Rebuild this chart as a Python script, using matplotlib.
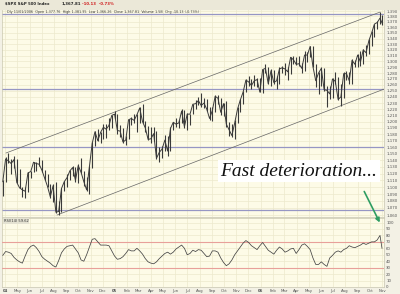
import matplotlib
matplotlib.use('Agg')
import matplotlib.pyplot as plt
import matplotlib.patches as mpatches
import pandas as pd

###############################################################
####   weekly S&P 500 values
###############################################################
week_close = [1108, 1142, 1139, 1135, 1141, 1107, 1099, 1096, 1094, 1121, 1123, 1137, 1135, 1134,
              1125, 1113, 1101, 1086, 1102, 1064, 1065, 1098, 1108, 1114, 1124, 1129, 1110,
              1132, 1122, 1108, 1096, 1130, 1166, 1184, 1170, 1183, 1191, 1188, 1194, 1210, 1212,
              1186, 1185, 1168, 1171, 1203, 1205, 1202, 1211, 1222, 1200, 1190, 1172,
              1173, 1181, 1143, 1152, 1157, 1171, 1154, 1189, 1199, 1196, 1198, 1217, 1192,
              1212, 1212, 1228, 1229, 1234, 1226, 1230, 1220, 1205, 1218, 1241, 1238, 1215, 1229,
              1196, 1187, 1178, 1198, 1220, 1235, 1248, 1268, 1265, 1259, 1267, 1269, 1248,
              1286, 1288, 1262, 1284, 1264, 1267, 1287, 1289, 1287, 1282, 1307, 1303, 1295,
              1296, 1288, 1311, 1311, 1326, 1291, 1267, 1280, 1288, 1252, 1251, 1245, 1270,
              1266, 1236, 1240, 1279, 1279, 1267, 1302, 1295, 1311, 1299, 1320, 1315, 1336,
              1350, 1366, 1369, 1377, 1368]
week_high = [1110, 1145, 1151, 1142, 1146, 1142, 1127, 1100, 1100, 1123, 1124, 1138, 1137, 1145,
             1141, 1126, 1119, 1104, 1104, 1107, 1080, 1099, 1109, 1119, 1126, 1131, 1130,
             1134, 1143, 1124, 1115, 1131, 1168, 1185, 1188, 1184, 1197, 1197, 1206, 1211, 1217,
             1212, 1195, 1190, 1178, 1204, 1208, 1212, 1212, 1224, 1229, 1201, 1193,
             1191, 1192, 1185, 1160, 1162, 1179, 1178, 1192, 1200, 1206, 1203, 1220, 1219,
             1214, 1213, 1229, 1235, 1240, 1246, 1238, 1236, 1223, 1223, 1244, 1243, 1238, 1230,
             1233, 1199, 1197, 1202, 1224, 1236, 1250, 1270, 1275, 1270, 1276, 1271, 1272,
             1287, 1295, 1290, 1287, 1286, 1275, 1290, 1292, 1297, 1290, 1308, 1310, 1307,
             1310, 1297, 1318, 1316, 1327, 1327, 1295, 1282, 1290, 1288, 1259, 1258, 1272,
             1281, 1274, 1262, 1281, 1283, 1282, 1304, 1302, 1312, 1318, 1322, 1328, 1340,
             1353, 1366, 1372, 1389, 1382]
week_low = [1087, 1108, 1136, 1120, 1128, 1106, 1098, 1085, 1084, 1093, 1113, 1122, 1124, 1131,
            1123, 1110, 1100, 1084, 1078, 1063, 1060, 1064, 1094, 1100, 1111, 1116, 1108,
            1106, 1121, 1102, 1094, 1090, 1128, 1162, 1170, 1167, 1173, 1174, 1186, 1190, 1204,
            1181, 1176, 1167, 1163, 1172, 1194, 1198, 1184, 1198, 1198, 1183, 1171,
            1166, 1169, 1142, 1137, 1143, 1154, 1146, 1154, 1186, 1192, 1190, 1198, 1190,
            1187, 1194, 1212, 1220, 1227, 1224, 1222, 1217, 1203, 1201, 1216, 1228, 1211, 1209,
            1191, 1177, 1176, 1173, 1198, 1216, 1228, 1248, 1258, 1254, 1258, 1257, 1248,
            1246, 1280, 1261, 1259, 1262, 1254, 1261, 1280, 1277, 1269, 1279, 1296, 1294,
            1292, 1280, 1284, 1299, 1307, 1290, 1256, 1245, 1259, 1250, 1224, 1237, 1238,
            1262, 1235, 1225, 1239, 1269, 1261, 1262, 1290, 1290, 1292, 1295, 1310, 1313,
            1327, 1343, 1357, 1366, 1365]
rsi14 = [49, 55, 54, 52, 46, 42, 39, 37, 48, 58, 63, 65, 61, 55, 47, 43, 40, 37, 33, 31,
         41, 53, 59, 63, 64, 65, 59, 53, 42, 40, 50, 62, 74, 75, 70, 65, 65, 65, 64, 56,
         48, 43, 44, 47, 52, 58, 56, 56, 60, 56, 51, 44, 39, 37, 36, 39, 44, 48, 52, 54,
         51, 54, 59, 62, 65, 60, 50, 52, 57, 55, 58, 57, 52, 47, 48, 56, 56, 54, 45, 38,
         33, 36, 42, 50, 56, 62, 68, 72, 69, 64, 61, 58, 64, 69, 63, 57, 54, 51, 57, 62,
         59, 54, 56, 59, 60, 52, 58, 65, 67, 63, 58, 45, 35, 35, 39, 35, 32, 45, 49, 54,
         56, 54, 58, 60, 64, 62, 61, 63, 65, 68, 66, 68, 70, 70, 73, 80, 60]
dates = list(pd.date_range('2004-03-26', periods=136, freq='W-FRI')) + [pd.Timestamp('2006-11-01')]

# trend channel and level lines drawn on the chart
chan_top_d = ['2004-04-03', '2006-10-27']
chan_top_p = [1151, 1388]
chan_bot_d = ['2004-08-09', '2006-11-06']
chan_bot_p = [1060, 1253]
levels = [1385, 1253, 1160, 1067]

month_starts = pd.date_range('2004-04-01', '2006-11-01', freq='MS')
month_labels = ['04', 'May', 'Jun', 'Jul', 'Aug', 'Sep', 'Oct', 'Nov', 'Dec',
                '05', 'Feb', 'Mar', 'Apr', 'May', 'Jun', 'Jul', 'Aug', 'Sep', 'Oct', 'Nov', 'Dec',
                '06', 'Feb', 'Mar', 'Apr', 'May', 'Jun', 'Jul', 'Aug', 'Sep', 'Oct', 'Nov']
price_ticks = list(range(1060, 1400, 10))
rsi_ticks = list(range(0, 101, 10))

###############################################################
####   figure
###############################################################
W, H = 400.0, 294.0
bg = '#fdfbe7'
grid_c = '#ece9cd'
fig = plt.figure(figsize=(4, 2.94), dpi=100, facecolor='#f3f1e5')
fig.patches.append(mpatches.Rectangle((0, 1 - 9 / H), 1, 9 / H, transform=fig.transFigure,
                                      color='#ebe8d8', zorder=0))

xl = (pd.Timestamp('2004-03-24'), pd.Timestamp('2006-11-06'))

ax = fig.add_axes([2 / W, 1 - 217 / H, 382 / W, 208 / H], facecolor=bg)
ax.set_yscale('log')
ax.set_xlim(xl)
ax.set_ylim(1057.2, 1393.7)
ax.vlines(dates, week_low, week_high, color='#3a3a3a', lw=0.8, zorder=4)
ax.plot(dates, week_close, color='#3a3a3a', lw=0.7, zorder=4)
ax.plot(pd.to_datetime(chan_top_d), chan_top_p, color='#666666', lw=0.5, zorder=3)
ax.plot(pd.to_datetime(chan_bot_d), chan_bot_p, color='#666666', lw=0.5, zorder=3)
for lv in levels:
    ax.axhline(lv, color='#9696c4', lw=0.9, zorder=2)

ax.yaxis.set_minor_locator(matplotlib.ticker.NullLocator())
ax.set_yticks(price_ticks)
ax.set_yticklabels(['{:,}'.format(t) for t in price_ticks])
ax.yaxis.set_minor_locator(matplotlib.ticker.NullLocator())
ax.yaxis.tick_right()
ax.set_xticks(month_starts)
ax.set_xticklabels([])
ax.tick_params(axis='both', length=0, labelsize=2.8, pad=2, colors='#555555')
ax.grid(True, color=grid_c, lw=0.5, zorder=0)
for s in ax.spines.values():
    s.set_color('#c9c6b0')
    s.set_linewidth(0.5)

ax.text(0.012, 0.995, 'Dly 11/01/2006  Open 1,377.76  High 1,381.95  Low 1,366.26  Close 1,367.81  Volume 1.5B  Chg -10.13 (-0.73%)',
        transform=ax.transAxes, fontsize=2.4, va='top', color='#333333')
fig.text(0.012, 1 - 2 / H, r'\$SPX S&P 500 Index', fontsize=2.8, weight='bold', va='top', color='#222222')
fig.text(0.155, 1 - 2 / H, '1,367.81', fontsize=2.8, weight='bold', va='top', color='#222222')
fig.text(0.205, 1 - 2 / H, '-10.13  -0.73%', fontsize=2.8, weight='bold', va='top', color='#d02020')

fig.text(299 / W, 1 - 171 / H, 'Fast deterioration...', family='Liberation Serif', style='italic',
         fontsize=14, ha='center', va='center', color='#111111',
         bbox=dict(boxstyle='square,pad=0.15', fc='white', ec='none'))

###############################################################
####   RSI panel
###############################################################
ax2 = fig.add_axes([2 / W, 1 - 287 / H, 382 / W, 69 / H], facecolor=bg)
ax2.set_xlim(xl)
ax2.set_ylim(0.8, 107)
ax2.plot(dates, rsi14, color='#444444', lw=0.55, zorder=4)
ax2.axhline(70, color='#e8a09a', lw=0.8, zorder=3)
ax2.axhline(30, color='#e8a09a', lw=0.8, zorder=3)
ax2.set_yticks(rsi_ticks)
ax2.yaxis.tick_right()
ax2.set_xticks(month_starts)
ax2.set_xticklabels(month_labels)
for lab, txt in zip(ax2.get_xticklabels(), month_labels):
    if txt[0].isdigit():
        lab.set_fontweight('bold')
ax2.tick_params(axis='both', length=0, labelsize=2.8, pad=1.5, colors='#555555')
ax2.grid(True, color=grid_c, lw=0.5, zorder=0)
for s in ax2.spines.values():
    s.set_color('#c9c6b0')
    s.set_linewidth(0.5)
ax2.text(0.004, 0.985, 'RSI(14) 59.62', transform=ax2.transAxes, fontsize=2.6, va='top',
         color='#333333', bbox=dict(boxstyle='square,pad=0.2', fc='#e4e2d2', ec='none'))

# green arrow from the note down to the last RSI peak
fig.patches.append(mpatches.FancyArrowPatch((363 / W, 1 - 189 / H), (381 / W, 1 - 225 / H),
                                            transform=fig.transFigure, arrowstyle='-|>',
                                            mutation_scale=6, color='#2e9d62', lw=1.2, zorder=10))

plt.savefig('out.png', dpi=100, facecolor=fig.get_facecolor())
